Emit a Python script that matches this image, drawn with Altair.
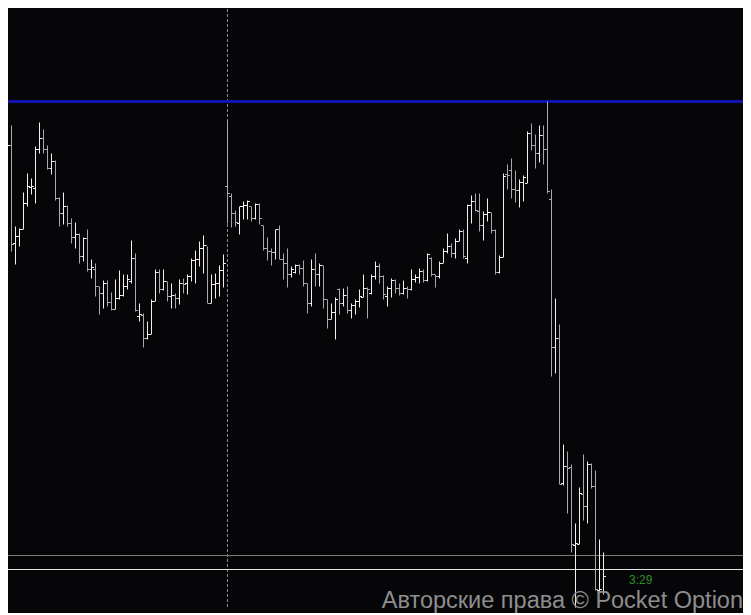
import altair as alt
import pandas as pd

# Quotes in points above 1.08000 (1 point = 0.00001)
high = [468, 485, 476, 375, 373, 409, 428, 423, 455, 479, 472, 456, 448, 441, 404, 409, 396, 383, 379, 368,
        364, 372, 342, 338, 315, 321, 321, 309, 322, 331, 327, 327, 361, 348, 298, 288, 280, 302, 332, 332,
        332, 320, 318, 308, 322, 323, 327, 343, 351, 360, 366, 355, 327, 328, 336, 347, 481, 408, 391, 395,
        400, 401, 395, 398, 398, 376, 364, 353, 372, 376, 348, 353, 335, 337, 337, 341, 318, 342, 348, 338,
        336, 302, 298, 304, 313, 313, 315, 298, 302, 312, 327, 314, 327, 340, 338, 326, 315, 323, 322, 318,
        321, 315, 332, 327, 333, 332, 348, 344, 327, 340, 353, 368, 358, 363, 372, 372, 397, 406, 408, 408,
        390, 403, 389, 372, 346, 428, 437, 443, 431, 422, 426, 470, 478, 467, 476, 476, 500, 412, 303, 277,
        157, 150, 137, 78, 114, 147, 140, 138, 131, 62, 49]
low = [445, 418, 350, 337, 355, 372, 395, 407, 398, 448, 448, 432, 427, 401, 375, 377, 375, 358, 353, 338,
       340, 330, 323, 305, 287, 293, 295, 291, 292, 302, 305, 312, 318, 290, 280, 254, 262, 267, 300, 308,
       311, 300, 293, 293, 297, 308, 307, 320, 318, 335, 328, 298, 298, 303, 305, 314, 378, 374, 375, 367,
       382, 382, 380, 382, 377, 351, 341, 336, 342, 342, 322, 314, 324, 328, 327, 315, 288, 295, 315, 315,
       293, 273, 282, 262, 287, 295, 288, 283, 287, 294, 304, 283, 307, 322, 318, 302, 295, 304, 308, 306,
       307, 303, 311, 319, 318, 319, 320, 325, 314, 323, 338, 348, 344, 343, 360, 343, 338, 378, 390, 370,
       361, 380, 368, 327, 328, 344, 412, 403, 399, 394, 400, 418, 451, 433, 439, 437, 408, 225, 228, 117,
       116, 88, 49, -6, 57, 81, 78, 113, 11, 9, 7]
open_ = [452, 439, 456, 358, 365, 372, 398, 414, 413, 452, 463, 452, 433, 440, 403, 388, 395, 378, 364, 367,
         345, 363, 332, 332, 315, 308, 318, 299, 292, 303, 306, 315, 320, 343, 285, 286, 263, 267, 300, 329,
         312, 320, 305, 306, 303, 318, 318, 325, 341, 342, 353, 356, 298, 317, 318, 331, 415, 405, 388, 378,
         395, 396, 395, 383, 397, 376, 353, 350, 349, 372, 342, 338, 327, 329, 336, 333, 318, 298, 332, 327,
         336, 302, 282, 289, 312, 298, 306, 291, 296, 300, 304, 313, 308, 325, 335, 325, 305, 313, 321, 313,
         308, 313, 312, 322, 324, 330, 321, 343, 327, 325, 338, 350, 355, 348, 360, 370, 343, 396, 400, 390,
         376, 387, 389, 371, 329, 344, 427, 431, 412, 411, 419, 418, 468, 456, 448, 466, 452, 402, 254, 263,
         118, 135, 134, 56, 57, 107, 95, 137, 115, 11, 10]
close = [445, 456, 357, 365, 372, 398, 415, 415, 452, 463, 452, 433, 440, 403, 388, 395, 378, 364, 367, 345,
         363, 332, 334, 315, 308, 318, 299, 292, 303, 306, 315, 322, 343, 291, 287, 263, 267, 300, 329, 312,
         320, 305, 306, 303, 318, 317, 325, 341, 342, 353, 356, 298, 317, 318, 331, 338, 408, 388, 379, 395,
         396, 400, 383, 397, 383, 353, 350, 349, 372, 342, 338, 327, 332, 336, 333, 318, 298, 332, 327, 336,
         302, 282, 289, 302, 298, 306, 291, 296, 300, 305, 313, 312, 325, 335, 325, 307, 313, 321, 313, 308,
         313, 312, 322, 324, 330, 321, 347, 327, 325, 338, 350, 355, 348, 360, 370, 345, 396, 400, 391, 376,
         387, 389, 371, 329, 344, 425, 426, 412, 411, 419, 424, 468, 456, 448, 466, 452, 410, 254, 263, 117,
         135, 133, 57, 58, 108, 95, 137, 115, 12, 12, 25]

BASE = 1.08
PT = 0.00001

# horizontal levels (points) and the marked bar
levels = [500, 46, 32]
level_colors = ["#1212b0", "#7a7a7a", "#e6e6e6"]
level_widths = [3, 1, 1]
marker_bar = 56
timer_text = "3:29"
watermark = "Авторские права © Pocket Option"

n = len(high)
df = pd.DataFrame({
    "i": list(range(n)),
    "high": [BASE + v * PT for v in high],
    "low": [BASE + v * PT for v in low],
    "open": [BASE + v * PT for v in open_],
    "close": [BASE + v * PT for v in close],
})
df["dir"] = ["up" if c >= o else "down" for o, c in zip(open_, close)]

lv = pd.DataFrame({
    "price": [BASE + v * PT for v in levels],
    "col": level_colors,
    "w": level_widths,
})

W, H = 735, 599
xs = alt.Scale(domain=[1.125, 1.125 + W / 4], nice=False, zero=False)
ys = alt.Scale(domain=[BASE - 6.5 * PT, BASE + 592.5 * PT], nice=False, zero=False)
col = alt.Color("dir:N", scale=alt.Scale(domain=["up", "down"], range=["#f4ede9", "#a8a8b0"]), legend=None)

base = alt.Chart(df)

bars = base.mark_rule(strokeWidth=1, clip=True).encode(
    x=alt.X("i:Q", scale=xs, axis=None),
    y=alt.Y("low:Q", scale=ys, axis=None),
    y2="high:Q",
    color=col,
)
opens = base.mark_rule(strokeWidth=1, xOffset=-2.5, x2Offset=-0.5, clip=True).encode(
    x=alt.X("i:Q", scale=xs, axis=None),
    x2="i:Q",
    y=alt.Y("open:Q", scale=ys, axis=None),
    color=col,
)
closes = base.mark_rule(strokeWidth=1, xOffset=0.5, x2Offset=2.5, clip=True).encode(
    x=alt.X("i:Q", scale=xs, axis=None),
    x2="i:Q",
    y=alt.Y("close:Q", scale=ys, axis=None),
    color=col,
)

hlines = alt.Chart(lv).mark_rule(clip=True).encode(
    y=alt.Y("price:Q", scale=ys, axis=None),
    color=alt.Color("col:N", scale=None, legend=None),
    strokeWidth=alt.StrokeWidth("w:Q", scale=None, legend=None),
)

vline = alt.Chart(pd.DataFrame({"i": [marker_bar]})).mark_rule(
    color="#8a8a8a", strokeWidth=1, strokeDash=[3, 2]
).encode(x=alt.X("i:Q", scale=xs, axis=None))

timer = alt.Chart(pd.DataFrame({"t": [timer_text]})).mark_text(
    color="#2b8f2b", fontSize=12, font="Liberation Sans", align="center", baseline="middle"
).encode(text="t:N", x=alt.value(632.7), y=alt.value(571))

wm = alt.Chart(pd.DataFrame({"t": [watermark]})).mark_text(
    color="#8e8e8e", fontSize=23.5, font="Liberation Sans", align="right", baseline="alphabetic"
).encode(text="t:N", x=alt.value(735), y=alt.value(599))

chart = alt.layer(vline, hlines, bars, opens, closes, timer, wm).properties(
    width=W, height=H, padding=0, background="#060608"
).configure_view(stroke=None)

chart.save("out.html", embed_options={"renderer": "svg", "actions": False})
